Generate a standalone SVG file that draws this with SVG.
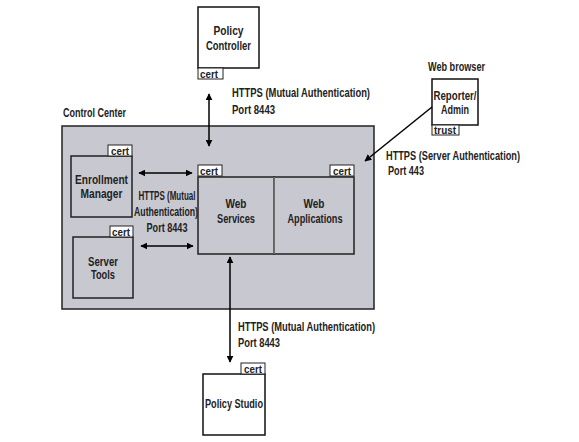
<svg xmlns="http://www.w3.org/2000/svg" width="579" height="442" viewBox="0 0 579 442">
<defs>
<style>
text{font-family:"Liberation Sans",Arial,sans-serif;font-weight:bold;font-size:12px;fill:#222;}
.c{text-anchor:middle;}
.t{font-size:10.5px;}
.box{fill:#fff;stroke:#111;stroke-width:1.5;}
.gbox{fill:#c8c8d1;stroke:#222;stroke-width:1.5;}
.tab{fill:#fff;stroke:#222;stroke-width:1;}
.ln{stroke:#000;stroke-width:1.5;fill:none;}
</style>
<marker id="ah" viewBox="0 0 10 10" refX="9" refY="5" markerWidth="7" markerHeight="7" markerUnits="userSpaceOnUse" orient="auto-start-reverse">
<path d="M0,0 L10,5 L0,10 z" fill="#000"/>
</marker>
</defs>
<rect width="579" height="442" fill="#fff"/>

<g id="control-center">
<text x="63" y="117" textLength="63" lengthAdjust="spacingAndGlyphs">Control Center</text>
<rect class="gbox" x="62" y="126" width="312" height="183"/>
</g>

<g id="policy-controller">
<rect class="box" x="198" y="7" width="61" height="61"/>
<text class="c" x="228.5" y="35" textLength="30" lengthAdjust="spacingAndGlyphs">Policy</text>
<text class="c" x="228.5" y="50" textLength="45" lengthAdjust="spacingAndGlyphs">Controller</text>
<rect class="tab" x="198" y="68" width="25" height="11"/>
<text x="200" y="77.5" class="t" textLength="18" lengthAdjust="spacingAndGlyphs">cert</text>
</g>

<g id="reporter-admin">
<text x="428" y="71" textLength="57" lengthAdjust="spacingAndGlyphs">Web browser</text>
<rect class="box" x="432" y="79" width="46" height="46"/>
<text class="c" x="455" y="100" textLength="43" lengthAdjust="spacingAndGlyphs">Reporter/</text>
<text class="c" x="455" y="114" textLength="28" lengthAdjust="spacingAndGlyphs">Admin</text>
<rect class="tab" x="432" y="125" width="27" height="10"/>
<text x="434" y="134" class="t" textLength="22" lengthAdjust="spacingAndGlyphs">trust</text>
</g>

<g id="enrollment-manager">
<rect class="gbox" x="71" y="156" width="61" height="61"/>
<text class="c" x="101.5" y="184" textLength="53" lengthAdjust="spacingAndGlyphs">Enrollment</text>
<text class="c" x="101.5" y="198" textLength="42" lengthAdjust="spacingAndGlyphs">Manager</text>
<rect class="tab" x="108" y="145" width="24" height="11"/>
<text x="111" y="154.5" class="t" textLength="18" lengthAdjust="spacingAndGlyphs">cert</text>
</g>

<g id="server-tools">
<rect class="gbox" x="73" y="237" width="60" height="61"/>
<text class="c" x="103" y="266" textLength="30" lengthAdjust="spacingAndGlyphs">Server</text>
<text class="c" x="103" y="279" textLength="24" lengthAdjust="spacingAndGlyphs">Tools</text>
<rect class="tab" x="110" y="226" width="23" height="11"/>
<text x="112" y="235.5" class="t" textLength="18" lengthAdjust="spacingAndGlyphs">cert</text>
</g>

<g id="web-services">
<rect class="gbox" x="198" y="177" width="76" height="77"/>
<text class="c" x="236" y="208" textLength="21" lengthAdjust="spacingAndGlyphs">Web</text>
<text class="c" x="236" y="223" textLength="38" lengthAdjust="spacingAndGlyphs">Services</text>
<rect class="tab" x="198" y="165" width="24" height="11"/>
<text x="200" y="174.5" class="t" textLength="18" lengthAdjust="spacingAndGlyphs">cert</text>
</g>

<g id="web-applications">
<rect class="gbox" x="274" y="177" width="80" height="77"/>
<line x1="274" y1="177" x2="274" y2="254" stroke="#777" stroke-width="1.5"/>
<text class="c" x="314" y="208" textLength="21" lengthAdjust="spacingAndGlyphs">Web</text>
<text class="c" x="315" y="223" textLength="55" lengthAdjust="spacingAndGlyphs">Applications</text>
<rect class="tab" x="330" y="165" width="24" height="11"/>
<text x="333" y="174.5" class="t" textLength="18" lengthAdjust="spacingAndGlyphs">cert</text>
</g>

<g id="policy-studio">
<rect class="box" x="203" y="374" width="62" height="61"/>
<text class="c" x="234" y="408" textLength="58" lengthAdjust="spacingAndGlyphs">Policy Studio</text>
<rect class="tab" x="241" y="363" width="24" height="11"/>
<text x="244" y="372.5" class="t" textLength="18" lengthAdjust="spacingAndGlyphs">cert</text>
</g>

<g id="connectors">
<line class="ln" x1="209" y1="94" x2="209" y2="146" marker-start="url(#ah)" marker-end="url(#ah)"/>
<text x="232" y="97" textLength="138" lengthAdjust="spacingAndGlyphs">HTTPS (Mutual Authentication)</text>
<text x="232" y="114" textLength="43" lengthAdjust="spacingAndGlyphs">Port 8443</text>

<line class="ln" x1="432" y1="107" x2="365" y2="161" marker-end="url(#ah)"/>
<text x="386" y="160" textLength="134" lengthAdjust="spacingAndGlyphs">HTTPS (Server Authentication)</text>
<text x="388" y="175" textLength="36" lengthAdjust="spacingAndGlyphs">Port 443</text>

<line class="ln" x1="139" y1="173" x2="192" y2="173" marker-start="url(#ah)" marker-end="url(#ah)"/>
<line class="ln" x1="141" y1="246" x2="193" y2="246" marker-start="url(#ah)" marker-end="url(#ah)"/>
<text class="c" x="167" y="200" textLength="57" lengthAdjust="spacingAndGlyphs">HTTPS (Mutual</text>
<text class="c" x="166" y="216" textLength="64" lengthAdjust="spacingAndGlyphs">Authentication)</text>
<text class="c" x="167" y="232" textLength="41" lengthAdjust="spacingAndGlyphs">Port 8443</text>

<line class="ln" x1="230" y1="257" x2="230" y2="362" marker-start="url(#ah)" marker-end="url(#ah)"/>
<text x="238" y="331" textLength="137" lengthAdjust="spacingAndGlyphs">HTTPS (Mutual Authentication)</text>
<text x="238" y="347" textLength="42" lengthAdjust="spacingAndGlyphs">Port 8443</text>
</g>
</svg>
